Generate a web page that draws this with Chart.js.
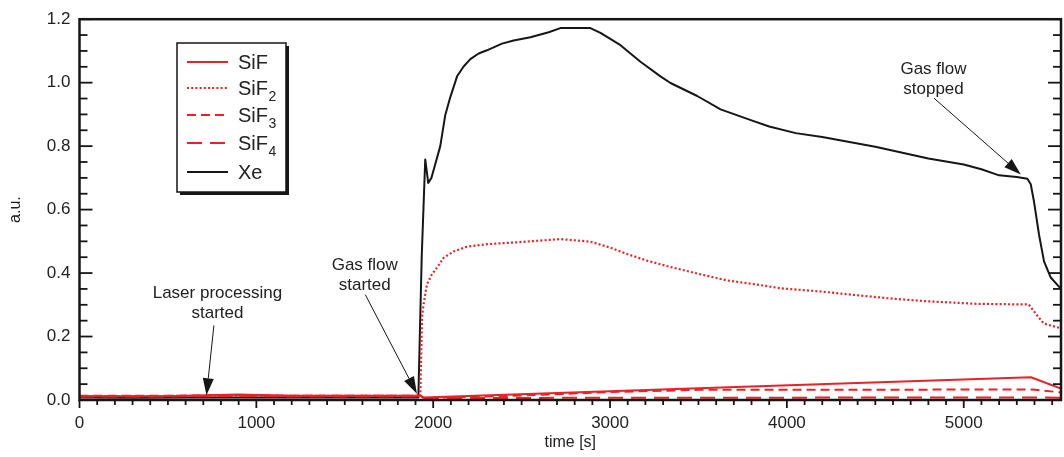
<!DOCTYPE html>
<html>
<head>
<meta charset="utf-8">
<script src="https://cdn.jsdelivr.net/npm/chart.js@4.4.1/dist/chart.umd.min.js"></script>
<style>
  html, body { margin: 0; padding: 0; background: #ffffff; }
  #wrap { width: 1064px; height: 457px; }
</style>
</head>
<body>
<div id="wrap"><canvas id="c" width="1064" height="457"></canvas></div>
<script>
// ---- time axis ticks and value axis ticks ----
const xTickValues = [0, 1000, 2000, 3000, 4000, 5000];
const yTickValues = [0, 0.2, 0.4, 0.6, 0.8, 1.0, 1.2];

// ---- Xe signal ----
const xeTime = [0, 300, 600, 900, 1200, 1500, 1800, 1916, 1935, 1955, 1972, 1990, 2010, 2040, 2068,
  2096, 2135, 2172, 2210, 2257, 2304, 2389, 2455, 2550, 2653, 2719, 2889, 2946, 3059, 3172, 3285,
  3342, 3493, 3625, 3800, 3900, 4050, 4200, 4500, 4800, 5000, 5100, 5200, 5300, 5360, 5379, 5398,
  5426, 5454, 5492, 5550];
const xeValue = [0.008, 0.007, 0.008, 0.008, 0.008, 0.008, 0.008, 0.008, 0.45, 0.758, 0.684, 0.70,
  0.74, 0.80, 0.897, 0.953, 1.020, 1.051, 1.074, 1.092, 1.102, 1.123, 1.133, 1.143, 1.159, 1.172,
  1.172, 1.157, 1.118, 1.066, 1.020, 0.999, 0.958, 0.916, 0.881, 0.862, 0.841, 0.829, 0.798,
  0.761, 0.742, 0.727, 0.708, 0.703, 0.697, 0.680, 0.623, 0.520, 0.437, 0.386, 0.350];

// ---- SiF2 signal ----
const sif2Time = [0, 300, 600, 900, 1200, 1500, 1800, 1927, 1937, 1946, 1965, 1993, 2021, 2059,
  2115, 2191, 2304, 2474, 2719, 2889, 3002, 3097, 3210, 3342, 3512, 3660, 3851, 3964, 4190, 4416,
  4605, 4794, 5077, 5368, 5407, 5453, 5550];
const sif2Value = [0.012, 0.012, 0.013, 0.014, 0.013, 0.013, 0.013, 0.013, 0.262, 0.303, 0.365,
  0.396, 0.417, 0.448, 0.468, 0.483, 0.491, 0.497, 0.507, 0.499, 0.480, 0.460, 0.439, 0.419,
  0.396, 0.377, 0.362, 0.352, 0.342, 0.329, 0.319, 0.311, 0.303, 0.301, 0.272, 0.241, 0.226];

// ---- SiF signal ----
const sifTime = [0, 500, 900, 1200, 1600, 1930, 1945, 3500, 5380, 5550];
const sifValue = [0.012, 0.012, 0.017, 0.013, 0.013, 0.013, 0.008, 0.037, 0.0715, 0.036];

// ---- SiF3 signal ----
const sif3Time = [0, 500, 900, 1200, 1600, 1930, 1945, 2500, 3000, 3500, 5390, 5550];
const sif3Value = [0.013, 0.013, 0.016, 0.013, 0.013, 0.013, 0.006, 0.014, 0.025, 0.032, 0.033, 0.024];

// ---- SiF4 signal ----
const sif4Time = [0, 500, 900, 1200, 1600, 1930, 1945, 3000, 5390, 5550];
const sif4Value = [0.011, 0.011, 0.013, 0.011, 0.011, 0.011, 0.006, 0.007, 0.008, 0.007];

// ---- annotations (data coordinates) ----
const noteText = [["Laser processing", "started"], ["Gas flow", "started"], ["Gas flow", "stopped"]];
const noteTextX = [780, 1613, 4829];
const noteTextY = [0.335, 0.424, 1.041];
const noteTailX = [760, 1616, 4832];
const noteTailY = [0.235, 0.332, 0.951];
const noteTipX = [718, 1908, 5323];
const noteTipY = [0.015, 0.02, 0.711];

const RED = 'rgb(236,32,39)';
const BLACK = '#161616';
const FONT = '"Liberation Sans", Arial, sans-serif';

function pts(t, v) { return t.map((tt, i) => ({ x: tt, y: v[i] })); }

const datasets = [
  { label: 'SiF',  data: pts(sifTime, sifValue),   borderColor: RED, borderWidth: 2, borderDash: [] },
  { label: 'SiF2', data: pts(sif2Time, sif2Value), borderColor: RED, borderWidth: 2.2, borderDash: [2, 2.2] },
  { label: 'SiF3', data: pts(sif3Time, sif3Value), borderColor: RED, borderWidth: 2, borderDash: [9, 5] },
  { label: 'SiF4', data: pts(sif4Time, sif4Value), borderColor: RED, borderWidth: 2, borderDash: [15, 8] },
  { label: 'Xe',   data: pts(xeTime, xeValue),     borderColor: BLACK, borderWidth: 2, borderDash: [] }
].map(d => Object.assign(d, { pointRadius: 0, tension: 0, fill: false, borderCapStyle: 'butt', borderJoinStyle: 'round' }));

// frame, inward/outward ticks, legend box and arrows
const decor = {
  id: 'decor',
  afterDatasetsDraw(chart) {
    const { ctx, chartArea: a, scales: { x, y } } = chart;
    ctx.save();
    ctx.strokeStyle = BLACK;
    ctx.lineCap = 'butt';

    // bottom ticks (outward)
    ctx.lineWidth = 1.8;
    for (let v = 0; v <= x.max; v += 100) {
      const px = x.getPixelForValue(v);
      const len = (v % 1000 === 0) ? 8 : 5;
      ctx.beginPath(); ctx.moveTo(px, a.bottom); ctx.lineTo(px, a.bottom + len); ctx.stroke();
    }
    // left and right ticks (inward)
    for (let i = 0; i <= 24; i++) {
      const v = i * 0.05;
      const py = y.getPixelForValue(v);
      const len = (i % 4 === 0) ? 13 : 8;
      ctx.beginPath(); ctx.moveTo(a.left, py); ctx.lineTo(a.left + len, py); ctx.stroke();
      ctx.beginPath(); ctx.moveTo(a.right, py); ctx.lineTo(a.right - len, py); ctx.stroke();
    }
    // frame
    ctx.lineWidth = 2.5;
    ctx.strokeRect(a.left, a.top, a.right - a.left, a.bottom - a.top);

    // annotations
    ctx.fillStyle = '#222';
    ctx.font = '17px ' + FONT;
    ctx.textAlign = 'center';
    ctx.textBaseline = 'middle';
    noteText.forEach((lines, k) => {
      const tx = x.getPixelForValue(noteTextX[k]);
      const ty = y.getPixelForValue(noteTextY[k]);
      lines.forEach((s, j) => ctx.fillText(s, tx, ty + j * 20));
      const x0 = x.getPixelForValue(noteTailX[k]), y0 = y.getPixelForValue(noteTailY[k]);
      const x1 = x.getPixelForValue(noteTipX[k]), y1 = y.getPixelForValue(noteTipY[k]);
      const ang = Math.atan2(y1 - y0, x1 - x0);
      const hl = 17, hw = 5.5;
      const bx = x1 - hl * Math.cos(ang), by = y1 - hl * Math.sin(ang);
      ctx.strokeStyle = BLACK; ctx.lineWidth = 1;
      ctx.beginPath(); ctx.moveTo(x0, y0); ctx.lineTo(bx, by); ctx.stroke();
      ctx.fillStyle = BLACK;
      ctx.beginPath();
      ctx.moveTo(x1, y1);
      ctx.lineTo(bx + hw * Math.sin(ang), by - hw * Math.cos(ang));
      ctx.lineTo(bx - hw * Math.sin(ang), by + hw * Math.cos(ang));
      ctx.closePath(); ctx.fill();
      ctx.fillStyle = '#222';
    });

    // legend box with drop shadow
    const bx0 = 177, by0 = 43, bw = 109, bh = 149;
    ctx.fillStyle = BLACK;
    ctx.fillRect(bx0 + 3, by0 + 3, bw, bh);
    ctx.fillStyle = '#fff';
    ctx.fillRect(bx0, by0, bw, bh);
    ctx.strokeStyle = BLACK; ctx.lineWidth = 1.5;
    ctx.strokeRect(bx0, by0, bw, bh);

    const rowY = [62, 88, 115, 143, 172];
    chart.data.datasets.forEach((ds, i) => {
      const ly = rowY[i];
      ctx.strokeStyle = ds.borderColor;
      ctx.lineWidth = ds.borderWidth;
      ctx.setLineDash(ds.borderDash);
      ctx.beginPath(); ctx.moveTo(187, ly); ctx.lineTo(228, ly); ctx.stroke();
      ctx.setLineDash([]);
      const m = ds.label.match(/^(.*?)(\d*)$/);
      ctx.fillStyle = '#222';
      ctx.textAlign = 'left';
      ctx.textBaseline = 'alphabetic';
      ctx.font = '20px ' + FONT;
      ctx.fillText(m[1], 238, ly + 7);
      if (m[2]) {
        const w = ctx.measureText(m[1]).width;
        ctx.font = '14px ' + FONT;
        ctx.fillText(m[2], 238 + w + 0.5, ly + 13);
      }
    });
    ctx.restore();
  }
};

new Chart(document.getElementById('c'), {
  type: 'line',
  data: { datasets },
  options: {
    responsive: false,
    animation: false,
    devicePixelRatio: 1,
    layout: { padding: { top: 9, right: 3, left: 0, bottom: 0 } },
    plugins: { legend: { display: false }, tooltip: { enabled: false } },
    scales: {
      x: {
        type: 'linear', min: 0, max: 5550,
        afterBuildTicks: s => { s.ticks = xTickValues.map(v => ({ value: v })); },
        afterFit: s => { s.height = 57; },
        grid: { display: false, drawTicks: false },
        border: { display: false },
        ticks: { padding: 13, color: '#222', font: { family: FONT, size: 17 }, maxRotation: 0, callback: v => String(v) },
        title: { display: true, text: 'time [s]', color: '#222', font: { family: FONT, size: 16 }, padding: { top: 0, bottom: 5 } }
      },
      y: {
        type: 'linear', min: 0, max: 1.2,
        afterBuildTicks: s => { s.ticks = yTickValues.map(v => ({ value: v })); },
        afterFit: s => { s.width = 79.5; },
        grid: { display: false, drawTicks: false },
        border: { display: false },
        ticks: { padding: 9, color: '#222', font: { family: FONT, size: 17 }, callback: v => v.toFixed(1) },
        title: { display: true, text: 'a.u.', color: '#222', font: { family: FONT, size: 16 }, padding: { top: 6, bottom: 0 } }
      }
    }
  },
  plugins: [decor]
});
</script>
</body>
</html>
